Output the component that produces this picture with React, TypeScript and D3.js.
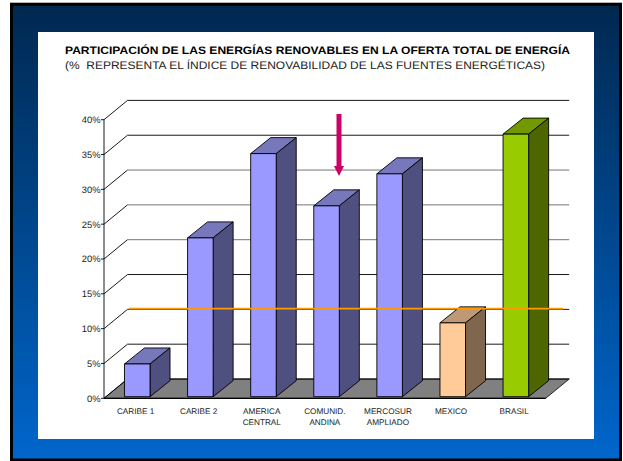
import { FunctionComponent } from "react";
import * as d3 from "d3";

const categories = [["CARIBE 1"], ["CARIBE 2"], ["AMERICA", "CENTRAL"], ["COMUNID.", "ANDINA"], ["MERCOSUR", "AMPLIADO"], ["MEXICO"], ["BRASIL"]];
const values = [4.7, 22.8, 34.9, 27.4, 32.0, 10.6, 37.7];
const yTicks = [0, 5, 10, 15, 20, 25, 30, 35, 40];
const softGridTicks = [20, 25, 30];
const referenceLevel = 12.87;

const purple = { front: "#9999ff", top: "#7777bb", side: "#4f4f80" };
const barColors = [purple, purple, purple, purple, purple, { front: "#ffcc99", top: "#bf9973", side: "#7f664d" }, { front: "#99cc00", top: "#739900", side: "#4d6600" }];

const W = 623, H = 461;
const depthX = 23.5, depthY = 19.3;
const barDepthX = 20, barDepthY = 16;

const App: FunctionComponent = () => {
    const x = d3.scaleBand<number>().domain(d3.range(categories.length)).range([104, 545.7]).paddingInner(0.595).paddingOuter(0.2975);
    const y = d3.scaleLinear().domain([0, 40]).range([398.3, 119.7]);
    const bw = x.bandwidth();
    const x0 = 104, x1 = 545.7, y0 = y(0);

    return (
        <svg width={W} height={H} textRendering="geometricPrecision" style={{ position: "absolute", left: 0, top: 0, fontFamily: "'Liberation Sans', Arial, sans-serif" }}>
            <defs>
                <linearGradient id="bg" x1="0" y1="0" x2="0" y2="1">
                    <stop offset="0" stopColor="#002850" />
                    <stop offset="1" stopColor="#0066cc" />
                </linearGradient>
            </defs>
            <rect x={11.5} y={4.2} width={609} height={455.8} fill="url(#bg)" stroke="#000" strokeWidth={3} />
            <rect x={38} y={32} width={556} height={407} fill="#fff" />

            <text x={65} y={53.5} fontSize={10.9} fontWeight="bold" fill="#000" textLength={505} lengthAdjust="spacingAndGlyphs">PARTICIPACIÓN DE LAS ENERGÍAS RENOVABLES EN LA OFERTA TOTAL DE ENERGÍA</text>
            <text x={65} y={69} fontSize={10.9} fill="#222" textLength={480} lengthAdjust="spacingAndGlyphs" xmlSpace="preserve">(%  REPRESENTA EL ÍNDICE DE RENOVABILIDAD DE LAS FUENTES ENERGÉTICAS)</text>

            {/* floor */}
            <polygon points={`${x0},${y0} ${x0 + depthX},${y0 - depthY} ${x1 + depthX},${y0 - depthY} ${x1},${y0}`} fill="#808080" stroke="#000" strokeWidth={0.8} />

            {/* walls */}
            {yTicks.map(t => (
                <g key={t} fill="none" stroke="#000" strokeWidth={0.9}>
                    <line x1={x0 + depthX} x2={x1 + depthX} y1={y(t) - depthY} y2={y(t) - depthY} stroke={softGridTicks.includes(t) ? "#666" : "#000"} />
                    <line x1={x0} x2={x0 + depthX} y1={y(t)} y2={y(t) - depthY} />
                    <line x1={x0 - 3} x2={x0} y1={y(t)} y2={y(t)} />
                </g>
            ))}
            <line x1={x0} x2={x0} y1={y(40)} y2={y0} stroke="#000" strokeWidth={0.9} />
            <line x1={x0} x2={x1} y1={y0} y2={y0} stroke="#000" strokeWidth={1.2} />

            {yTicks.map(t => (
                <text key={t} x={x0 - 3.5} y={y(t) + 3.4} fontSize={9.4} textAnchor="end" fill="#222">{t}%</text>
            ))}

            {/* bars */}
            {values.map((v, i) => {
                const c = barColors[i];
                const l = x(i)! + 1.7, r = l + bw;
                const b = y(0) - 1.6, t = y(v) - 1.6;
                return (
                    <g key={i} stroke="#000" strokeWidth={0.9} strokeLinejoin="round">
                        <polygon points={`${l},${t} ${l + barDepthX},${t - barDepthY} ${r + barDepthX},${t - barDepthY} ${r},${t}`} fill={c.top} />
                        <polygon points={`${r},${t} ${r + barDepthX},${t - barDepthY} ${r + barDepthX},${b - barDepthY} ${r},${b}`} fill={c.side} />
                        <rect x={l} y={t} width={bw} height={b - t} fill={c.front} />
                    </g>
                );
            })}

            {/* category labels */}
            {categories.map((lines, i) => (
                <text key={i} textAnchor="middle" fontSize={8.2} fill="#222">
                    {lines.map((s, j) => (
                        <tspan key={j} x={x(i)! + bw / 2} y={414 + j * 11}>{s}</tspan>
                    ))}
                </text>
            ))}

            {/* reference line and arrow */}
            <line x1={129} x2={563} y1={y(referenceLevel)} y2={y(referenceLevel)} stroke="#ff9900" strokeWidth={1.8} />
            <line x1={339} x2={339} y1={114} y2={167} stroke="#cc0066" strokeWidth={5} />
            <polygon points="334,166 344,166 339,176" fill="#cc0066" />
        </svg>
    );
};

export default App;
